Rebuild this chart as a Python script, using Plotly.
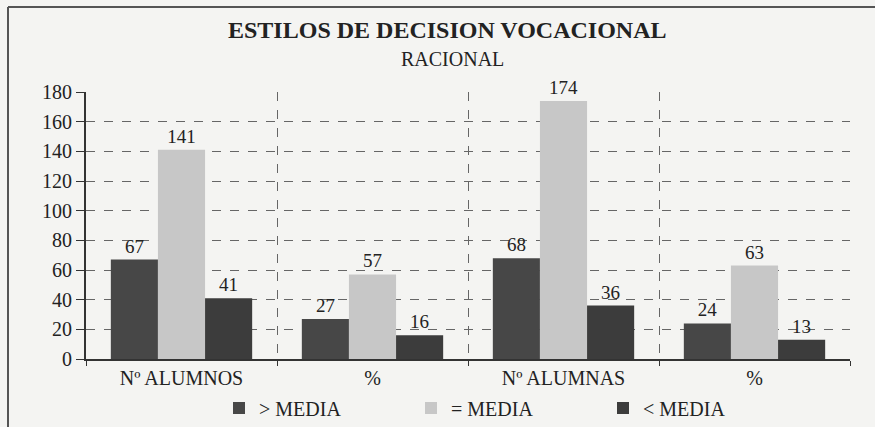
import plotly.graph_objects as go

# Categories (two percentage columns share the same label)
categories = ["Nº ALUMNOS", "%", "Nº ALUMNAS", "%"]
series_names = ["> MEDIA", "= MEDIA", "< MEDIA"]
mayor_media = [67, 27, 68, 24]
igual_media = [141, 57, 174, 63]
menor_media = [41, 16, 36, 13]
y_ticks = [0, 20, 40, 60, 80, 100, 120, 140, 160, 180]

colors = ["#474747", "#c7c7c7", "#3c3c3c"]
FONT = "'Liberation Serif', 'Times New Roman', Times, 'DejaVu Serif', serif"

W, H = 875, 427
M_L, M_R, M_T, M_B = 86, 25, 92, 68
plot_w = W - M_L - M_R
plot_h = H - M_T - M_B

x_pos = [i + 0.5 for i in range(len(categories))]

fig = go.Figure()
for name, vals, col in zip(series_names, [mayor_media, igual_media, menor_media], colors):
    fig.add_trace(go.Bar(
        x=x_pos, y=vals, name=name,
        marker=dict(color=col, line=dict(width=0)),
        text=[str(v) for v in vals], textposition="outside",
        textfont=dict(family=FONT, size=19, color="#222"),
        cliponaxis=False,
    ))


def px_to_paper_x(px):
    return (px - M_L) / plot_w


def px_to_paper_y(py):
    return (H - M_B - py) / plot_h


# Outer frame (top and left edges)
frame_x = px_to_paper_x(8)
frame_y = px_to_paper_y(7)
fig.add_shape(type="line", xref="paper", yref="paper",
              x0=frame_x, x1=frame_x, y0=px_to_paper_y(H + 5), y1=frame_y,
              line=dict(color="#555", width=2))
fig.add_shape(type="line", xref="paper", yref="paper",
              x0=frame_x, x1=px_to_paper_x(W + 5), y0=frame_y, y1=frame_y,
              line=dict(color="#555", width=2))

# Title and subtitle
fig.add_annotation(text="<b>ESTILOS DE DECISION VOCACIONAL</b>", xref="paper", yref="paper",
                   x=px_to_paper_x(447), y=px_to_paper_y(30), xanchor="center", yanchor="middle",
                   showarrow=False, font=dict(family=FONT, size=24, color="#222"))
fig.add_annotation(text="RACIONAL", xref="paper", yref="paper",
                   x=px_to_paper_x(452), y=px_to_paper_y(59), xanchor="center", yanchor="middle",
                   showarrow=False, font=dict(family=FONT, size=20, color="#222"))

fig.update_layout(
    width=W, height=H,
    margin=dict(l=M_L, r=M_R, t=M_T, b=M_B, autoexpand=False),
    paper_bgcolor="#f4f4f2", plot_bgcolor="#f4f4f2",
    barmode="group", bargap=0.26, bargroupgap=0,
    font=dict(family=FONT, size=18, color="#222"),
    legend=dict(
        orientation="h", x=px_to_paper_x(219), xanchor="left",
        y=px_to_paper_y(408), yanchor="middle",
        entrywidth=147, entrywidthmode="pixels",
        font=dict(family=FONT, size=20, color="#222"),
        bgcolor="rgba(0,0,0,0)", itemwidth=30,
    ),
    showlegend=True,
)

fig.update_xaxes(
    range=[0, len(categories)],
    tickvals=x_pos, ticktext=categories, ticks="", showgrid=False,
    showline=True, linecolor="#333", linewidth=2, zeroline=False,
    tickfont=dict(family=FONT, size=20, color="#222"),
    minor=dict(tick0=0, dtick=1, ticks="outside", ticklen=5, tickcolor="#333",
               showgrid=True, gridcolor="#666", griddash="dash", gridwidth=1),
)
fig.update_yaxes(
    range=[0, 180], tickvals=y_ticks,
    showline=True, linecolor="#333", linewidth=2,
    ticks="outside", ticklen=8, tickcolor="#333",
    showgrid=True, gridcolor="#666", griddash="dash", gridwidth=1,
    zeroline=False,
    tickfont=dict(family=FONT, size=20, color="#222"),
)

fig.write_html("out.html")
